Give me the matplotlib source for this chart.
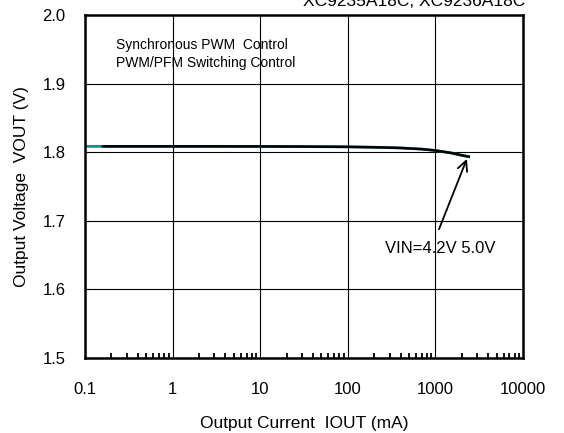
import matplotlib
matplotlib.use("Agg")
import matplotlib.pyplot as plt
from matplotlib.ticker import LogLocator, NullFormatter, FixedLocator

plt.rcParams['font.family'] = ['Liberation Sans', 'DejaVu Sans']

# Output current (mA) and output voltage (V)
iout_42 = [0.1, 0.3, 1, 3, 10, 30, 100, 200, 400, 700, 1000, 1500, 2000, 2400]
vout_42 = [1.8085, 1.8085, 1.8085, 1.8085, 1.8084, 1.8082, 1.8078, 1.8072,
           1.8062, 1.8045, 1.8025, 1.7990, 1.7955, 1.7935]
iout_50 = [0.16, 0.3, 1, 3, 10, 30, 100, 200, 400, 700, 1000, 1500, 2000, 2400]
vout_50 = [1.8085, 1.8085, 1.8085, 1.8085, 1.8084, 1.8082, 1.8078, 1.8072,
           1.8062, 1.8045, 1.8025, 1.7990, 1.7955, 1.7935]

x_ticks = [0.1, 1, 10, 100, 1000, 10000]
x_labels = ['0.1', '1', '10', '100', '1000', '10000']
y_ticks = [1.5, 1.6, 1.7, 1.8, 1.9, 2.0]

fig = plt.figure(figsize=(5.64, 4.33), dpi=100)
ax = fig.add_axes([85 / 564, 1 - 358 / 433, 438 / 564, 343 / 433])

ax.plot(iout_42, vout_42, color='#1a8a8a', lw=2.0)
ax.plot(iout_50, vout_50, color='black', lw=1.8)

ax.set_xscale('log')
ax.set_xlim(0.1, 10000)
ax.set_ylim(1.5, 2.0)
ax.xaxis.set_major_locator(FixedLocator(x_ticks))
ax.set_xticklabels(x_labels)
ax.xaxis.set_minor_locator(LogLocator(base=10, subs=range(2, 10), numticks=20))
ax.xaxis.set_minor_formatter(NullFormatter())
ax.set_yticks(y_ticks)
ax.set_yticklabels(['%.1f' % v for v in y_ticks])
ax.grid(True, which='major', color='black', lw=0.8)
ax.tick_params(axis='x', which='major', length=0, labelsize=12, pad=17)
ax.tick_params(axis='x', which='minor', direction='in', length=3.5, width=1.3)
ax.tick_params(axis='y', direction='in', length=3, labelsize=12, pad=14)
for s in ax.spines.values():
    s.set_linewidth(1.8)

ax.set_xlabel('Output Current  IOUT (mA)', fontsize=12.5, labelpad=14)
ax.set_ylabel('Output Voltage  VOUT (V)', fontsize=12.5, labelpad=10)

ax.text(0.226, 1.956, 'Synchronous PWM  Control', fontsize=10, va='center')
ax.text(0.226, 1.930, 'PWM/PFM Switching Control', fontsize=10, va='center')

ax.annotate('', xy=(2350, 1.794), xytext=(1070, 1.684),
            arrowprops=dict(arrowstyle='->', color='black', lw=1.3,
                            mutation_scale=18))
ax.text(1150, 1.659, 'VIN=4.2V 5.0V', fontsize=12, ha='center', va='center')

# header text that sits mostly above the top edge of the picture
fig.text(414 / 564, 1 - 6 / 433, 'XC9235A18C, XC9236A18C', fontsize=12.5,
         ha='center', va='baseline')

fig.savefig('out.png', dpi=100)
